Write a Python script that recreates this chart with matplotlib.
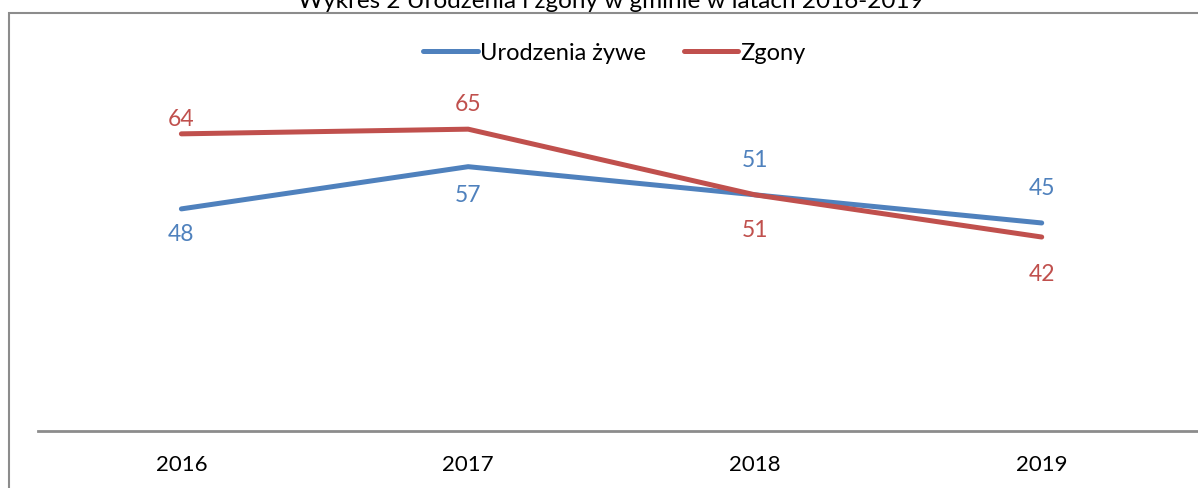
import matplotlib.pyplot as plt
from matplotlib.patches import Rectangle

years = ["2016", "2017", "2018", "2019"]
births = [48, 57, 51, 45]
deaths = [64, 65, 51, 42]

# label offsets in pixels (negative = above the point), as Excel placed them
births_dy = [26, 29, -34, -34]
deaths_dy = [-14, -25, 36, 37]

blue = "#4F81BD"
red = "#C0504D"

plt.rcParams['font.family'] = ['Lato', 'DejaVu Sans']

fig = plt.figure(figsize=(11.98, 4.88), dpi=100)

# chart area border (cut off on the right and bottom)
fig.patches.append(Rectangle((9 / 1198, -0.1), 1.1, 1.1 - 13 / 488,
                             transform=fig.transFigure, fill=False,
                             edgecolor="#8c8c8c", linewidth=1.5))

ax = fig.add_axes([38 / 1198, 57 / 488, 1160 / 1198, 378 / 488])
x = range(len(years))
ax.plot(x, births, color=blue, linewidth=3.6, solid_capstyle="round", label="Urodzenia żywe")
ax.plot(x, deaths, color=red, linewidth=3.6, solid_capstyle="round", label="Zgony")

for i, v in enumerate(births):
    ax.annotate(str(v), (i, v), xytext=(0, -births_dy[i] * 0.72), textcoords="offset points",
                ha="center", va="center", color=blue, fontsize=16.5)
for i, v in enumerate(deaths):
    ax.annotate(str(v), (i, v), xytext=(0, -deaths_dy[i] * 0.72), textcoords="offset points",
                ha="center", va="center", color=red, fontsize=16.5)

ax.set_xlim(-0.5, 3.545)
ax.set_ylim(0.64, 81.24)
ax.set_xticks(list(x))
ax.set_xticklabels(years, fontsize=16)
ax.tick_params(axis="x", length=0, pad=17)
ax.set_yticks([])
for s in ["left", "right", "top"]:
    ax.spines[s].set_visible(False)
ax.spines["bottom"].set_color("#8c8c8c")
ax.spines["bottom"].set_linewidth(2)
ax.patch.set_alpha(0)

ax.legend(loc="center", bbox_to_anchor=(0.497, 1.0), ncol=2, frameon=False,
          fontsize=17, handlelength=2.3, handletextpad=0.1, columnspacing=1.6)

fig.text(611 / 1198, 1 - 8 / 488, "Wykres 2 Urodzenia i zgony w gminie w latach 2016-2019",
         ha="center", va="baseline", fontsize=17.5)

fig.savefig("out.png", dpi=100)
